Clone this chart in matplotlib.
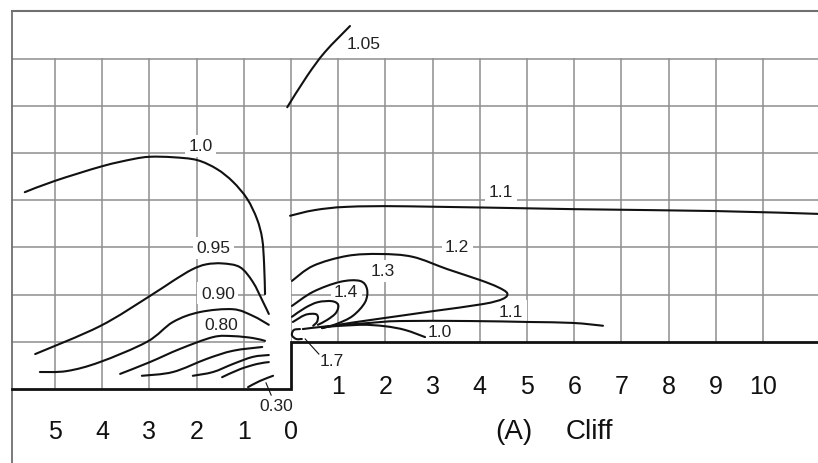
import matplotlib
matplotlib.use("Agg")
import matplotlib.pyplot as plt
from matplotlib.patches import Rectangle, PathPatch
from matplotlib.path import Path

plt.rcParams['font.family'] = ['Liberation Sans', 'DejaVu Sans']

# ---------------- data (grid units: x = distance from cliff edge, y = height) ----
left_tick_labels = ["5", "4", "3", "2", "1", "0"]
left_tick_pos = [-5, -4, -3, -2, -1, 0]
right_tick_labels = ["1", "2", "3", "4", "5", "6", "7", "8", "9", "10"]
right_tick_pos = [1, 2, 3, 4, 5, 6, 7, 8, 9, 10]

c105_x = [-0.08, 0.34, 0.72, 1.25]
c105_y = [5.97, 6.63, 7.14, 7.69]

c100L_x = [-5.64, -5.00, -4.00, -3.35, -2.99, -2.50, -1.99, -1.57, -1.23, -0.93, -0.72, -0.61, -0.57, -0.55]
c100L_y = [4.17, 4.41, 4.72, 4.87, 4.92, 4.91, 4.85, 4.66, 4.39, 4.03, 3.60, 3.18, 2.65, 2.01]

c095_x = [-5.42, -4.05, -2.99, -2.50, -2.10, -1.80, -1.45, -1.08, -0.81, -0.59, -0.47]
c095_y = [0.74, 1.33, 1.97, 2.29, 2.53, 2.64, 2.66, 2.58, 2.27, 1.84, 1.59]

c090_x = [-5.32, -4.75, -4.05, -3.05, -2.50, -1.93, -1.23, -0.81, -0.47]
c090_y = [0.36, 0.38, 0.57, 1.00, 1.42, 1.63, 1.69, 1.55, 1.36]

c080_x = [-3.62, -2.99, -2.35, -1.65, -1.23, -0.81, -0.55]
c080_y = [0.32, 0.57, 0.85, 1.10, 1.12, 1.08, 1.02]

c070_x = [-3.16, -2.50, -1.78, -1.23, -0.61]
c070_y = [0.28, 0.36, 0.64, 0.81, 0.89]

c060_x = [-2.08, -1.65, -1.23, -0.81, -0.47]
c060_y = [0.28, 0.36, 0.53, 0.68, 0.72]

c050_x = [-1.46, -1.08, -0.72, -0.47]
c050_y = [0.25, 0.42, 0.53, 0.57]

c030_x = [-0.91, -0.66, -0.38]
c030_y = [0.04, 0.17, 0.28]

c110U_x = [-0.02, 0.50, 1.20, 2.50, 6.00, 9.00, 11.17]
c110U_y = [3.67, 3.79, 3.86, 3.87, 3.81, 3.77, 3.71]

c120_x = [0.02, 0.47, 1.19, 1.89, 2.58, 3.31, 4.00, 4.38, 4.58, 4.49, 4.07, 3.01, 2.31, 1.67, 1.00, 0.66]
c120_y = [2.29, 2.61, 2.82, 2.86, 2.80, 2.54, 2.31, 2.16, 2.03, 1.91, 1.80, 1.65, 1.55, 1.46, 1.36, 1.29]

c130_x = [0.02, 0.47, 1.04, 1.46, 1.61, 1.57, 1.31, 0.97, 0.66]
c130_y = [1.76, 2.06, 2.27, 2.29, 2.12, 1.84, 1.55, 1.38, 1.29]

c140_x = [0.02, 0.30, 0.57, 0.87, 1.00, 0.95, 0.76, 0.57]
c140_y = [1.53, 1.72, 1.84, 1.86, 1.78, 1.61, 1.46, 1.36]

c150_x = [0.04, 0.30, 0.51, 0.57, 0.55, 0.47]
c150_y = [1.42, 1.57, 1.59, 1.53, 1.42, 1.34]

c170_x = [0.19, 0.06, 0.02, 0.11, 0.23]
c170_y = [1.27, 1.25, 1.14, 1.06, 1.06]

c110L_x = [0.25, 0.78, 1.67, 2.31, 3.79, 5.02, 5.97, 6.61]
c110L_y = [1.27, 1.33, 1.40, 1.44, 1.44, 1.42, 1.40, 1.34]

c100R_x = [0.66, 1.46, 1.99, 2.42, 2.84]
c100R_y = [1.31, 1.36, 1.33, 1.25, 1.10]

label_text = ["1.05", "1.0", "1.1", "0.95", "0.90", "0.80", "1.3", "1.4", "1.2", "1.0", "1.1"]
label_x = [1.53, -1.91, 4.45, -1.65, -1.55, -1.48, 1.95, 1.17, 3.52, 3.16, 4.66]
label_y = [7.33, 5.15, 4.19, 2.99, 2.03, 1.36, 2.50, 2.06, 3.01, 1.21, 1.65]

# ---------------- figure ----------------
S = 47.2
fig = plt.figure(figsize=(8.18, 4.64), dpi=100)
ax = fig.add_axes([0, 0, 1, 1])
XMIN, XMAX = -291 / S, 527 / S
YMIN, YMAX = -74 / S, 390 / S
ax.set_xlim(XMIN, XMAX)
ax.set_ylim(YMIN, YMAX)
ax.axis('off')

XL = -5.91
TOP = 8.0
G = '#8e8e8e'
glw = 1.1

for x in [-5, -4, -3, -2, -1]:
    ax.plot([x, x], [0, 7], color=G, lw=glw, zorder=1)
for x in range(0, 11):
    ax.plot([x, x], [1, 7], color=G, lw=glw, zorder=1)
ax.plot([XL, 0], [1, 1], color=G, lw=glw, zorder=1)
for y in range(2, 8):
    ax.plot([XL, XMAX], [y, y], color=G, lw=glw, zorder=1)
ax.plot([XL, XMAX], [TOP, TOP], color='#707070', lw=1.5, zorder=1)
ax.plot([XL, XL], [YMIN, TOP], color='#707070', lw=1.3, zorder=1)

ax.add_patch(Rectangle((-0.55, 0.02), 0.55, 2.28, fc='white', ec='none', zorder=1.5))

# ground
ax.plot([XL, 0, 0, XMAX], [0, 0, 1, 1], color='#111111', lw=2.0, zorder=4,
        solid_joinstyle='miter')


def smooth_curve(xs, ys):
    """Bezier path through the read points (Catmull-Rom style tangents)."""
    pts = list(zip(xs, ys))
    n = len(pts)
    verts = [pts[0]]
    codes = [Path.MOVETO]
    for i in range(n - 1):
        p0 = pts[i - 1] if i > 0 else pts[i]
        p1 = pts[i]
        p2 = pts[i + 1]
        p3 = pts[i + 2] if i + 2 < n else pts[i + 1]
        c1 = (p1[0] + (p2[0] - p0[0]) / 6.0, p1[1] + (p2[1] - p0[1]) / 6.0)
        c2 = (p2[0] - (p3[0] - p1[0]) / 6.0, p2[1] - (p3[1] - p1[1]) / 6.0)
        verts += [c1, c2, p2]
        codes += [Path.CURVE4, Path.CURVE4, Path.CURVE4]
    return Path(verts, codes)


K = '#111111'
clw = 1.5
for xs, ys in [(c105_x, c105_y), (c100L_x, c100L_y), (c095_x, c095_y), (c090_x, c090_y),
               (c080_x, c080_y), (c070_x, c070_y), (c060_x, c060_y), (c050_x, c050_y),
               (c030_x, c030_y), (c110U_x, c110U_y), (c120_x, c120_y), (c130_x, c130_y),
               (c140_x, c140_y), (c150_x, c150_y), (c170_x, c170_y), (c110L_x, c110L_y),
               (c100R_x, c100R_y)]:
    ax.add_patch(PathPatch(smooth_curve(xs, ys), fill=False, ec=K, lw=clw, zorder=3,
                           capstyle='round'))

for s, x, y in zip(label_text, label_x, label_y):
    ax.text(x, y, s, fontsize=12.5, ha='center', va='center', color='#222222',
            bbox=dict(fc='white', ec='none', pad=2.5), zorder=2)

# leader labels
ax.text(-0.32, -0.34, "0.30", fontsize=12.5, ha='center', va='center', color='#222222')
ax.plot([-0.53, -0.42], [0.13, -0.13], color=K, lw=0.8, zorder=3)
ax.text(0.87, 0.61, "1.7", fontsize=12.5, ha='center', va='center', color='#222222')
ax.plot([0.30, 0.59], [1.06, 0.74], color=K, lw=0.8, zorder=3)

for s, x in zip(left_tick_labels, left_tick_pos):
    ax.text(x, -0.89, s, fontsize=18, ha='center', va='center', color='#111111')
for s, x in zip(right_tick_labels, right_tick_pos):
    ax.text(x, 0.06, s, fontsize=18, ha='center', va='center', color='#111111')

ax.text((514 - 291) / S, -0.89, "(A)", fontsize=20, ha='center', va='center', color='#111111')
ax.text((589 - 291) / S, -0.89, "Cliff", fontsize=20, ha='center', va='center', color='#111111')

fig.savefig("out.png", dpi=100, facecolor='white')
